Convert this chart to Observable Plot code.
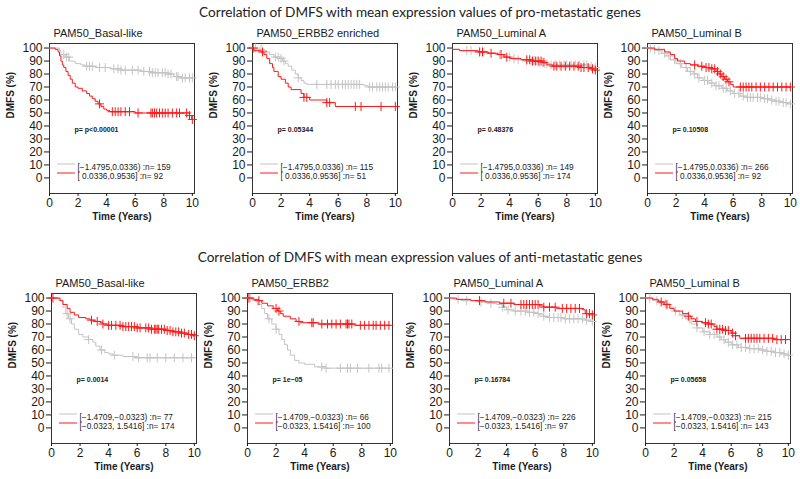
<!DOCTYPE html>
<html><head><meta charset="utf-8">
<script src="https://cdn.jsdelivr.net/npm/d3@7"></script>
<script src="https://cdn.jsdelivr.net/npm/@observablehq/plot@0.6"></script>
<style>
body{margin:0;background:#fff;}
#wrap{position:relative;width:800px;height:479px;overflow:hidden;background:#fff;}
.main{position:absolute;left:0;width:840px;text-align:center;font-family:Lato,"Open Sans",sans-serif;font-size:13.6px;line-height:18px;color:#222;white-space:nowrap;}
#wrap svg text{font-family:"Liberation Sans",Arial,sans-serif !important;}
</style></head><body><div id="wrap"></div>
<script>
// ---- text ----
const mainTitles = ["Correlation of DMFS with mean expression values of pro-metastatic genes",
                    "Correlation of DMFS with mean expression values of anti-metastatic genes"];
const panelTitles = ["PAM50_Basal-like","PAM50_ERBB2 enriched","PAM50_Luminal A","PAM50_Luminal B",
                     "PAM50_Basal-like","PAM50_ERBB2","PAM50_Luminal A","PAM50_Luminal B"];
const pValues = ["p= p<0.00001","p= 0.05344","p= 0.48376","p= 0.10508",
                 "p= 0.0014","p= 1e\u221205","p= 0.16784","p= 0.05658"];
const lowGroup = ["[\u22121.4795,0.0336)","[\u22121.4709,\u22120.0323)"];
const highGroup = ["[ 0.0336,0.9536]","[\u22120.0323, 1.5416]"];
const nLow = [159,115,149,266, 77,66,226,215];
const nHigh = [92,51,174,92, 174,100,97,143];
const xTicks = [0,2,4,6,8,10];
const yTicks = [0,10,20,30,40,50,60,70,80,90,100];

// ---- survival steps [time, DMFS%] and censor times ----
const p1Gray = [[0,100],[0.7,98],[0.8,95],[1.1,93],[1.4,90],[1.8,88],[2.2,87],[2.5,86],[3.3,85],[4.3,84],[5.0,83],[6.4,82],[7.1,81],[8.3,80],[8.7,78],[9.1,77],[10,77]];
const p1GrayC = [1.0,1.2,1.35,2.6,2.8,3.0,3.5,3.9,4.5,4.8,5.0,5.3,5.8,6.2,6.6,7.0,7.2,7.4,7.6,7.9,8.1,8.3,8.5,8.9,9.0,9.3,9.5,9.8,10];
const p1Red = [[0,100],[0.4,99],[0.6,97],[0.7,94],[0.8,90],[0.9,87],[1.0,85],[1.15,82],[1.3,79],[1.45,76],[1.6,73],[1.8,70],[2.0,69],[2.3,67],[2.6,65],[2.8,63],[3.0,61],[3.2,59],[3.4,57],[3.6,55],[3.8,53],[4.0,52],[4.2,51],[6.0,50],[9.8,48],[9.95,45],[10,45]];
const p1RedC = [3.5,4.4,4.6,4.8,5.0,5.3,5.6,6.2,7.1,7.2,7.35,7.5,7.7,7.9,8.1,8.3,8.6,8.9,9.1,9.6,9.8,10];

const p2Gray = [[0,100],[0.3,99],[0.7,98],[1.0,97],[1.2,95],[1.5,93],[1.9,92],[2.1,90],[2.3,88],[2.5,86],[2.75,83],[3.0,80],[3.2,77],[3.4,75],[3.6,73],[3.8,72],[7.8,71],[8.1,70],[10,70]];
const p2GrayC = [0.2,0.6,1.6,1.8,2.0,2.2,3.2,4.5,5.2,5.5,5.8,6.0,6.3,6.5,6.7,6.9,7.1,7.3,7.5,8.2,8.4,8.7,8.9,9.1,9.3,9.5,9.8,10];
const p2Red = [[0,100],[0.1,98],[0.6,97],[0.8,95],[1.0,92],[1.2,88],[1.4,85],[1.5,82],[1.8,78],[2.0,76],[2.3,73],[2.5,70],[2.7,68],[3.4,65],[3.6,62],[4.0,60],[5.2,58],[5.8,55],[10,55]];
const p2RedC = [0.05,0.7,3.6,3.8,5.2,5.4,7.2,7.6,9.0,10];

const p3Gray = [[0,99],[0.5,98],[1.5,97],[2.5,96],[3.0,95],[3.6,94],[3.9,93],[4.2,92],[4.4,91],[5.0,90],[6.0,89],[6.4,88],[6.8,87],[9.5,86],[9.8,85],[10,85]];
const p3GrayC = [1.0,1.3,1.9,2.2,3.3,4.0,4.3,4.6,5.2,5.5,5.7,5.9,6.1,6.3,6.6,6.9,7.2,7.5,7.8,8.0,8.3,8.6,8.9,9.2,9.4,9.7,10];
const p3Red = [[0,99],[0.5,98],[1.8,97],[2.5,96],[3.2,95],[3.6,93],[4.0,92],[4.8,91],[5.6,90],[6.3,89],[6.6,87],[7.0,86],[9.0,85],[9.6,84],[9.9,83],[10,83]];
const p3RedC = [1.9,2.1,2.7,3.4,3.8,5.2,5.4,5.6,5.8,6.0,6.2,6.4,7.1,7.3,7.6,7.9,8.2,8.5,8.8,9.0,9.2,9.5,9.8,10];

const p4Gray = [[0,100],[0.3,99],[0.6,98],[1.0,96],[1.3,94],[1.6,91],[2.0,88],[2.4,85],[2.8,82],[3.2,80],[3.5,77],[3.9,75],[4.3,73],[4.7,71],[5.2,69],[5.6,67],[6.0,65],[6.5,63],[7.0,62],[8.0,61],[8.5,60],[9.0,59],[9.4,58],[9.8,57],[10,57]];
const p4GrayC = [0.2,0.5,0.8,1.2,1.5,1.9,2.3,2.7,3.0,3.3,3.6,4.0,4.2,4.5,4.8,5.0,5.3,5.5,5.8,6.1,6.4,6.7,7.0,7.2,7.4,7.7,7.9,8.2,8.4,8.7,9.0,9.2,9.5,9.7,10];
const p4Red = [[0,100],[0.5,99],[1.2,97],[1.6,95],[1.9,92],[2.1,90],[2.6,88],[3.0,87],[3.5,86],[4.0,85],[4.5,84],[4.8,82],[5.0,80],[5.2,78],[5.4,76],[5.6,74],[5.8,72],[6.0,70],[10,70]];
const p4RedC = [3.3,3.8,4.1,4.3,4.5,4.7,4.9,5.1,5.3,5.5,5.7,6.5,6.7,6.9,7.1,7.3,7.6,7.9,8.2,8.5,8.8,9.1,9.4,9.7,10];

const p5Gray = [[0,100],[0.5,98],[0.8,93],[1.0,88],[1.2,84],[1.4,80],[1.6,76],[1.9,72],[2.2,70],[2.6,68],[2.9,66],[3.1,63],[3.4,60],[3.7,58],[4.0,57],[4.3,56],[5.0,55],[5.8,54],[10,54]];
const p5GrayC = [1.1,1.3,2.6,3.5,4.4,5.7,6.1,6.7,6.9,7.4,8.0,8.6,9.2,9.8];
const p5Red = [[0,100],[0.6,98],[0.8,95],[1.1,92],[1.3,89],[1.6,87],[1.9,85],[2.4,84],[2.7,83],[3.0,82],[3.4,81],[3.6,80],[4.0,79],[5.0,78],[6.0,77],[7.0,76],[8.0,75],[8.5,74],[9.0,73],[9.5,72],[9.9,71],[10,71]];
const p5RedC = [0.1,2.8,3.2,3.6,4.0,4.2,4.5,4.8,5.0,5.2,5.4,5.6,5.8,6.0,6.2,6.6,6.8,7.0,7.2,7.3,7.4,7.5,7.7,7.9,8.1,8.3,8.5,8.7,8.9,9.1,9.3,9.6,9.8,10];

const p6Gray = [[0,100],[0.3,98],[0.7,95],[1.0,92],[1.2,88],[1.4,84],[1.7,80],[2.0,76],[2.2,72],[2.4,68],[2.6,64],[2.8,60],[3.0,56],[3.3,52],[3.6,50],[4.0,49],[4.7,47],[5.5,46],[10,46]];
const p6GrayC = [0.2,1.5,2.0,5.2,5.5,6.5,7.0,7.2,7.7,8.5,9.2,9.4,9.9];
const p6Red = [[0,100],[0.4,99],[0.8,98],[1.0,96],[1.4,94],[1.8,92],[2.1,90],[2.3,88],[2.5,86],[3.0,84],[3.4,82],[3.7,81],[5.0,80],[7.5,79],[10,79]];
const p6RedC = [0.1,0.8,2.0,2.2,3.6,4.5,4.6,5.2,5.6,5.9,6.2,6.5,6.9,7.0,7.1,7.3,7.9,8.2,8.5,8.8,9.0,9.3,9.6,9.9];

const p7Gray = [[0,100],[0.3,99],[0.8,98],[2.0,97],[2.8,96],[3.3,95],[3.7,93],[4.0,91],[4.5,90],[5.5,89],[6.0,88],[6.3,87],[6.6,86],[7.0,85],[8.0,84],[9.5,83],[9.9,82],[10,82]];
const p7GrayC = [0.6,1.2,2.2,2.9,3.7,4.1,4.6,5.0,5.3,5.6,5.9,6.2,6.6,7.0,7.3,7.6,7.8,8.1,8.4,8.7,9.0,9.3,9.6,10];
const p7Red = [[0,100],[0.5,99],[1.5,98],[2.5,97],[3.5,96],[4.5,95],[6.3,94],[6.6,93],[7.5,92],[9.3,91],[9.5,88],[10,87]];
const p7RedC = [2.1,3.8,4.3,5.0,5.2,5.4,5.6,5.8,6.0,6.2,6.6,7.0,7.4,7.9,8.2,8.5,8.8,9.1,9.6,9.8,10];

const p8Gray = [[0,100],[0.5,98],[1.0,96],[1.5,93],[2.0,90],[2.4,87],[2.8,84],[3.2,80],[3.6,77],[4.0,74],[4.5,72],[5.0,70],[5.3,68],[5.6,66],[6.0,64],[6.5,62],[7.3,61],[8.0,60],[8.5,59],[9.0,58],[9.5,57],[9.9,56],[10,56]];
const p8GrayC = [0.3,0.8,1.4,2.1,2.6,3.1,3.6,4.1,4.5,4.8,5.2,5.5,5.8,6.1,6.4,6.7,7.0,7.3,7.6,7.9,8.2,8.5,8.8,9.1,9.4,9.7,10];
const p8Red = [[0,100],[0.5,99],[0.9,97],[1.3,95],[1.7,92],[2.0,90],[2.6,88],[3.0,86],[3.2,84],[3.5,82],[4.0,81],[4.4,80],[4.8,78],[5.0,76],[5.5,75],[6.0,73],[6.3,71],[6.6,69],[9.0,68],[10,68]];
const p8RedC = [1.1,1.5,3.0,3.6,4.2,4.4,4.6,5.0,5.2,5.4,5.6,5.8,6.1,6.3,7.0,7.2,7.4,7.6,7.8,8.0,8.3,8.6,8.9,9.2,9.5,9.8];

const grayCurves = [p1Gray,p2Gray,p3Gray,p4Gray,p5Gray,p6Gray,p7Gray,p8Gray];
const grayCens = [p1GrayC,p2GrayC,p3GrayC,p4GrayC,p5GrayC,p6GrayC,p7GrayC,p8GrayC];
const redCurves = [p1Red,p2Red,p3Red,p4Red,p5Red,p6Red,p7Red,p8Red];
const redCens = [p1RedC,p2RedC,p3RedC,p4RedC,p5RedC,p6RedC,p7RedC,p8RedC];

// ---- layout ----
const boxes = [[49,43],[252,43],[452,43],[647,43],[51,293],[247,293],[449,293],[645,293]];
const GRAY = "#c4c4c4", RED = "#ff1a1a";
const ML = 50, MR = 5, MT = 15, MB = 40, W = 145, H = 150;
const FONT = "'Liberation Sans', Arial, sans-serif";

const wrap = document.getElementById("wrap");
[[0,3],[1,248]].forEach(([i, top]) => {
  const d = document.createElement("div");
  d.className = "main"; d.style.top = top + "px"; d.textContent = mainTitles[i];
  wrap.appendChild(d);
});

function stepValue(steps, t) {
  let v = steps[0][1];
  for (const [tt, s] of steps) if (tt <= t) v = s;
  return v;
}

for (let i = 0; i < 8; i++) {
  const row = i < 4 ? 0 : 1;
  const gLine = grayCurves[i].map(([t, s]) => ({t, s}));
  const rLine = redCurves[i].map(([t, s]) => ({t, s}));
  const gC = grayCens[i].map(t => ({t, s: stepValue(grayCurves[i], t)}));
  const rC = redCens[i].map(t => ({t, s: stepValue(redCurves[i], t)}));
  const lowLabel = `${lowGroup[row]} :n= ${nLow[i]}`;
  const highLabel = `${highGroup[row]} :n= ${nHigh[i]}`;
  const svg = Plot.plot({
    width: ML + W + MR, height: MT + H + MB,
    marginLeft: ML, marginRight: MR, marginTop: MT, marginBottom: MB,
    style: {background: "transparent", overflow: "visible", fontFamily: FONT, color: "#1a1a1a"},
    x: {domain: [0, 10.15], label: null},
    y: {domain: [-12, 103.5], label: null},
    marks: [
      Plot.frame({stroke: "#333"}),
      Plot.axisY(yTicks, {tickSize: 5, tickPadding: 2, fontSize: 12, label: null}),
      Plot.axisX(xTicks, {tickSize: 3, tickPadding: 2, fontSize: 12, label: null}),
      Plot.line(gLine, {x: "t", y: "s", curve: "step-after", stroke: GRAY, strokeWidth: 1}),
      Plot.dot(gC, {x: "t", y: "s", symbol: "plus", r: 3, stroke: GRAY, fill: "none", strokeWidth: 1}),
      Plot.line(rLine, {x: "t", y: "s", curve: "step-after", stroke: RED, strokeWidth: 1}),
      Plot.dot(rC, {x: "t", y: "s", symbol: "plus", r: 3, stroke: RED, fill: "none", strokeWidth: 1}),
      Plot.text([panelTitles[i]], {text: d => d, frameAnchor: "top-left", dx: 4, dy: -7, textAnchor: "start", lineAnchor: "bottom", fontSize: 11}),
      Plot.text([pValues[i]], {text: d => d, frameAnchor: "top-left", dx: 25, dy: 84, textAnchor: "start", fontSize: 7, fontWeight: "bold"}),
      Plot.text(["DMFS (%)"], {text: d => d, frameAnchor: "left", dx: -39, rotate: -90, fontSize: 10, fontWeight: "bold"}),
      Plot.text(["Time (Years)"], {text: d => d, frameAnchor: "bottom", dy: 26, fontSize: 10, fontWeight: "bold"}),
      Plot.text([lowLabel], {text: d => d, frameAnchor: "top-left", dx: 28, dy: 121, textAnchor: "start", fontSize: 8.3}),
      Plot.text([highLabel], {text: d => d, frameAnchor: "top-left", dx: 28, dy: 130, textAnchor: "start", fontSize: 8.3})
    ]
  });
  svg.style.fontFamily = FONT;
  const sel = d3.select(svg);
  sel.selectAll("text").attr("font-family", FONT);
  // legend swatches
  [[121, GRAY], [130, RED]].forEach(([dy, c]) => {
    sel.append("line").attr("x1", ML + 8).attr("x2", ML + 26)
      .attr("y1", MT + dy).attr("y2", MT + dy).attr("stroke", c).attr("stroke-width", 1);
  });
  svg.style.position = "absolute";
  svg.style.left = (boxes[i][0] - ML) + "px";
  svg.style.top = (boxes[i][1] - MT) + "px";
  wrap.appendChild(svg);
}
</script>
</body></html>
